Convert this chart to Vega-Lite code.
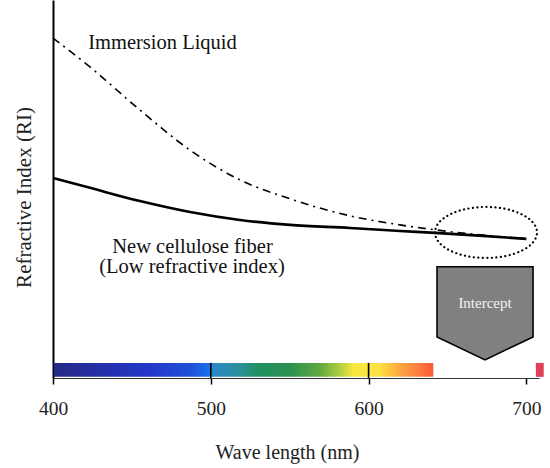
{
  "$schema": "https://vega.github.io/schema/vega-lite/v6.json",
  "width": 486,
  "height": 378,
  "autosize": {"type": "none"},
  "padding": {"left": 53, "top": 0, "right": 11, "bottom": 90},
  "background": "white",
  "config": {"view": {"stroke": null}},
  "datasets": {
    "curves": [
      {"series": "Immersion Liquid", "wl": 400, "ri": 1.5899},
      {"series": "Immersion Liquid", "wl": 423.4, "ri": 1.5823},
      {"series": "Immersion Liquid", "wl": 455.1, "ri": 1.5709},
      {"series": "Immersion Liquid", "wl": 486.8, "ri": 1.5603},
      {"series": "Immersion Liquid", "wl": 518.5, "ri": 1.5524},
      {"series": "Immersion Liquid", "wl": 550.2, "ri": 1.5474},
      {"series": "Immersion Liquid", "wl": 588.2, "ri": 1.5429},
      {"series": "Immersion Liquid", "wl": 619.9, "ri": 1.5405},
      {"series": "Immersion Liquid", "wl": 642.1, "ri": 1.5392},
      {"series": "Immersion Liquid", "wl": 672.5, "ri": 1.5378},
      {"series": "Immersion Liquid", "wl": 700, "ri": 1.5368},
      {"series": "New cellulose fiber", "wl": 400, "ri": 1.5529},
      {"series": "New cellulose fiber", "wl": 423.4, "ri": 1.5503},
      {"series": "New cellulose fiber", "wl": 455.1, "ri": 1.5468},
      {"series": "New cellulose fiber", "wl": 486.8, "ri": 1.5439},
      {"series": "New cellulose fiber", "wl": 518.5, "ri": 1.5418},
      {"series": "New cellulose fiber", "wl": 550.2, "ri": 1.5405},
      {"series": "New cellulose fiber", "wl": 588.2, "ri": 1.5397},
      {"series": "New cellulose fiber", "wl": 619.9, "ri": 1.5389},
      {"series": "New cellulose fiber", "wl": 642.1, "ri": 1.5384},
      {"series": "New cellulose fiber", "wl": 672.5, "ri": 1.5376},
      {"series": "New cellulose fiber", "wl": 700, "ri": 1.5368}
    ],
    "labels": [
      {"text": "Immersion Liquid", "wl": 469.4, "ri": 1.5886},
      {"text": "New cellulose fiber", "wl": 488.4, "ri": 1.5347},
      {"text": "(Low refractive index)", "wl": 488.1, "ri": 1.5294}
    ],
    "ticks": [{"wl": 500}, {"wl": 600}]
  },
  "layer": [
    {
      "data": {"values": [{"band": "visible", "from": 400.5, "to": 641}]},
      "mark": {
        "type": "rect",
        "color": {
          "gradient": "linear",
          "x1": 0, "x2": 1, "y1": 0, "y2": 0,
          "stops": [
            {"offset": 0, "color": "#252a85"},
            {"offset": 0.15, "color": "#2530b0"},
            {"offset": 0.25, "color": "#2438c8"},
            {"offset": 0.36, "color": "#2050d8"},
            {"offset": 0.41, "color": "#1a70e8"},
            {"offset": 0.42, "color": "#2a88c8"},
            {"offset": 0.49, "color": "#2a9098"},
            {"offset": 0.54, "color": "#20905e"},
            {"offset": 0.62, "color": "#2a9050"},
            {"offset": 0.70, "color": "#60a840"},
            {"offset": 0.755, "color": "#b0d040"},
            {"offset": 0.79, "color": "#f8e840"},
            {"offset": 0.86, "color": "#fce040"},
            {"offset": 0.91, "color": "#fca840"},
            {"offset": 0.965, "color": "#fc7840"},
            {"offset": 1, "color": "#fa5a38"}
          ]
        }
      },
      "encoding": {
        "x": {"field": "from", "type": "quantitative"},
        "x2": {"field": "to"},
        "y": {"datum": 1.5003},
        "y2": {"datum": 1.5040}
      }
    },
    {
      "data": {"values": [{"band": "red", "from": 706, "to": 711}]},
      "mark": {"type": "rect", "color": "#e2405a"},
      "encoding": {
        "x": {"field": "from", "type": "quantitative"},
        "x2": {"field": "to"},
        "y": {"datum": 1.5003},
        "y2": {"datum": 1.5040}
      }
    },
    {
      "data": {"name": "ticks"},
      "mark": {"type": "rule", "color": "#000", "strokeWidth": 1.6},
      "encoding": {
        "x": {"field": "wl", "type": "quantitative"},
        "y": {"datum": 1.50},
        "y2": {"datum": 1.5040}
      }
    },
    {
      "data": {"name": "curves"},
      "transform": [{"filter": "datum.series === 'Immersion Liquid'"}],
      "mark": {"type": "line", "color": "#000", "strokeWidth": 1.6, "strokeDash": [8, 5, 2, 5], "interpolate": "monotone"},
      "encoding": {
        "x": {"field": "wl", "type": "quantitative"},
        "y": {"field": "ri", "type": "quantitative"}
      }
    },
    {
      "data": {"name": "curves"},
      "transform": [{"filter": "datum.series === 'New cellulose fiber'"}],
      "mark": {"type": "line", "color": "#000", "strokeWidth": 2.6, "interpolate": "monotone"},
      "encoding": {
        "x": {
          "field": "wl", "type": "quantitative",
          "scale": {"domain": [400, 708], "nice": false, "zero": false},
          "axis": {
            "values": [400, 500, 600, 700],
            "grid": false,
            "tickSize": 6, "tickColor": "#000", "tickWidth": 1.5,
            "domainColor": "#333", "domainWidth": 1.2,
            "labelFont": "Liberation Serif", "labelFontSize": 19.5, "labelColor": "#222",
            "labelPadding": 15, "labelFlush": false,
            "title": "Wave length (nm)",
            "titleFont": "Liberation Serif", "titleFontSize": 20, "titleFontWeight": "normal", "titleColor": "#222",
            "titleX": 234, "titleY": 80, "titleBaseline": "alphabetic", "titleAlign": "center"
          }
        },
        "y": {
          "field": "ri", "type": "quantitative",
          "scale": {"domain": [1.50, 1.60], "nice": false, "zero": false},
          "axis": {
            "ticks": false, "labels": false, "grid": false,
            "domainColor": "#000", "domainWidth": 2,
            "title": "Refractive Index (RI)",
            "titleFont": "Liberation Serif", "titleFontSize": 21, "titleFontWeight": "normal", "titleColor": "#222",
            "titleAngle": -90, "titleX": -29, "titleY": 197, "titleBaseline": "middle", "titleAlign": "center"
          }
        }
      }
    },
    {
      "data": {"values": [{"item": "ellipse"}]},
      "mark": {
        "type": "point",
        "shape": "M-1,0A1,0.5,0,1,0,1,0A1,0.5,0,1,0,-1,0Z",
        "size": 10404,
        "filled": false,
        "stroke": "#000",
        "strokeWidth": 2.2,
        "strokeDash": [0.1, 4.4],
        "strokeCap": "round",
        "opacity": 1
      },
      "encoding": {
        "x": {"datum": 674.4},
        "y": {"datum": 1.5385}
      }
    },
    {
      "data": {"values": [{"item": "intercept box"}]},
      "mark": {
        "type": "point",
        "shape": "M-1,-0.97L1,-0.97L1,0.49L0,0.97L-1,0.49Z",
        "size": 9216,
        "filled": true,
        "fill": "#808080",
        "stroke": "#000",
        "strokeWidth": 1.6,
        "opacity": 1
      },
      "encoding": {
        "x": {"datum": 673.8},
        "y": {"datum": 1.5171}
      }
    },
    {
      "data": {"values": [{"text": "Intercept"}]},
      "mark": {"type": "text", "font": "Liberation Serif", "fontSize": 15, "color": "#f4f4f4", "baseline": "middle", "align": "center"},
      "encoding": {
        "x": {"datum": 673.8},
        "y": {"datum": 1.5198},
        "text": {"field": "text"}
      }
    },
    {
      "data": {"name": "labels"},
      "mark": {"type": "text", "font": "Liberation Serif", "fontSize": 20.5, "color": "#111", "baseline": "middle", "align": "center"},
      "encoding": {
        "x": {"field": "wl", "type": "quantitative"},
        "y": {"field": "ri", "type": "quantitative"},
        "text": {"field": "text"}
      }
    }
  ]
}
